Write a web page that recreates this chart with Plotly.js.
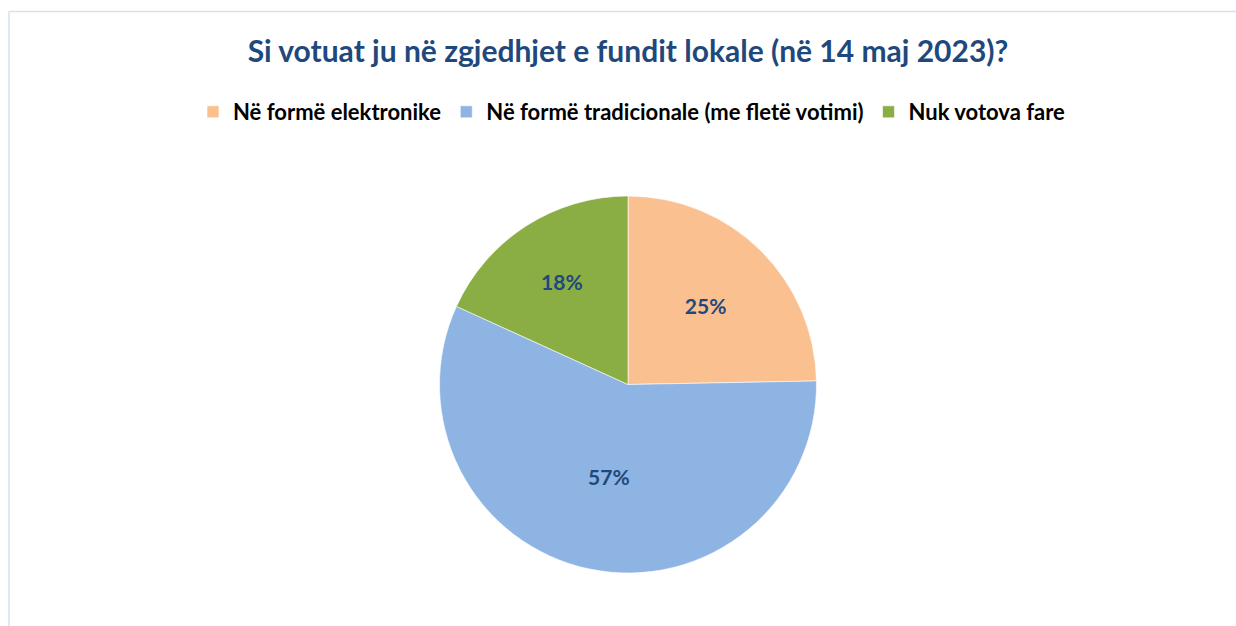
<!DOCTYPE html>
<html>
<head>
<meta charset="utf-8">
<script src="https://cdn.plot.ly/plotly-3.0.1.min.js"></script>
<style>html,body{margin:0;padding:0;background:#fff;}#chart{width:1236px;height:626px;}</style>
</head>
<body>
<div id="chart"></div>
<script>
const categories = ["Në formë elektronike", "Në formë tradicionale (me fletë votimi)", "Nuk votova fare"];
const values = [24.7, 57.1, 18.2];
const colors = ["#FAC090", "#8EB4E3", "#8AAD44"];
const titleText = "Si votuat ju në zgjedhjet e fundit lokale (në 14 maj 2023)?";

const W = 1236, H = 626;
const cx = 628, cy = 384.5, R = 188.5;

const trace = {
  type: "pie",
  labels: categories,
  values: values,
  sort: false,
  direction: "clockwise",
  rotation: 0,
  marker: {colors: colors, line: {color: "#ffffff", width: 0.6}},
  texttemplate: "%{percent:.0%}",
  textposition: "inside",
  insidetextorientation: "horizontal",
  textfont: {family: "Lato, 'Open Sans', sans-serif", size: 21, color: "#1F497D", weight: "bold"},
  hoverinfo: "label+percent",
  domain: {x: [(cx - R) / W, (cx + R) / W], y: [(H - cy - R) / H, (H - cy + R) / H]}
};

const layout = {
  width: W, height: H,
  margin: {l: 0, r: 0, t: 0, b: 0},
  paper_bgcolor: "#ffffff",
  title: {
    text: titleText,
    font: {family: "Lato, 'Open Sans', sans-serif", size: 30, color: "#1F497D", weight: "bold"},
    x: 628 / W, xanchor: "center", xref: "paper",
    y: 1 - 51 / H, yanchor: "middle", yref: "paper"
  },
  showlegend: true,
  legend: {
    orientation: "h",
    x: 632 / W, xanchor: "center",
    y: 1 - 112 / H, yanchor: "middle",
    font: {family: "Lato, 'Open Sans', sans-serif", size: 22, color: "#000000", weight: "bold"},
    itemwidth: 30,
    traceorder: "normal"
  },
  shapes: [
    {type: "line", xref: "paper", yref: "paper", x0: 9 / W, x1: 1.01, y0: 1 - 11.5 / H, y1: 1 - 11.5 / H,
     line: {color: "#D6E1EF", width: 1.5}},
    {type: "line", xref: "paper", yref: "paper", x0: 9 / W, x1: 9 / W, y0: -0.01, y1: 1 - 11.5 / H,
     line: {color: "#D6E1EF", width: 1.5}}
  ]
};

Plotly.newPlot("chart", [trace], layout, {displayModeBar: false, staticPlot: true});
</script>
</body>
</html>
